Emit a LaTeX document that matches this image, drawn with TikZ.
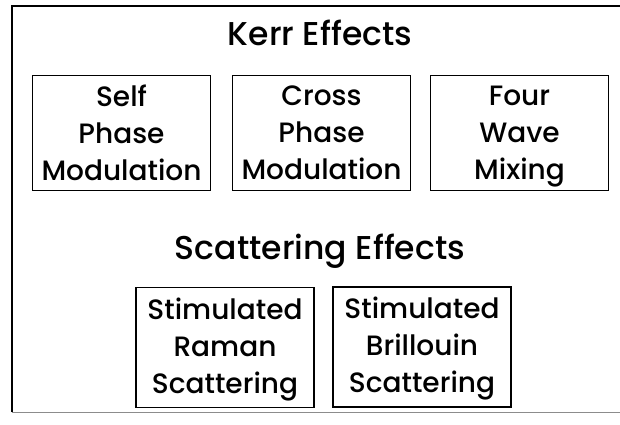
\documentclass[tikz,border=0pt]{standalone}
\usepackage{fontspec}
\setmainfont{Poppins Medium}
\begin{document}
\begin{tikzpicture}[x=1pt,y=-1pt,
  effectbox/.style={draw, line width=1.8pt, minimum width=178pt, minimum height=115pt,
    align=center, font=\fontsize{28}{37}\selectfont, inner sep=0pt, text depth=0pt},
  heading/.style={font=\fontsize{33}{38}\selectfont, inner sep=0pt},
  frameline/.style={line width=1.8pt}]
\useasboundingbox (0,0) rectangle (620,424);
% outer frame (its right side runs off the page)
\node[minimum width=610pt, minimum height=406pt, inner sep=0pt] (frame) at (317,209) {};
\draw[frameline] (frame.south west) -- (frame.north west) -- (frame.north east);
\draw[frameline, line width=1.2pt, black!45] (frame.south west) -- (frame.south east);
% Kerr group
\node[heading, anchor=base] (kerr) at (320,45) {Kerr Effects};
\node[effectbox] (spm) at (121.5,133) {Self\\Phase\\Modulation};
\node[effectbox] (xpm) at (321.5,133) {Cross\\Phase\\Modulation};
\node[effectbox] (fwm) at (519.5,133) {Four\\Wave\\Mixing};
% scattering group
\node[heading, anchor=base] (scat) at (320,259) {Scattering Effects};
\node[effectbox, minimum height=120pt, text depth=4pt] (srs) at (225,347.5) {Stimulated\\Raman\\Scattering};
\node[effectbox, minimum height=120pt, text depth=4pt] (sbs) at (422,347) {Stimulated\\Brillouin\\Scattering};
\end{tikzpicture}
\end{document}
